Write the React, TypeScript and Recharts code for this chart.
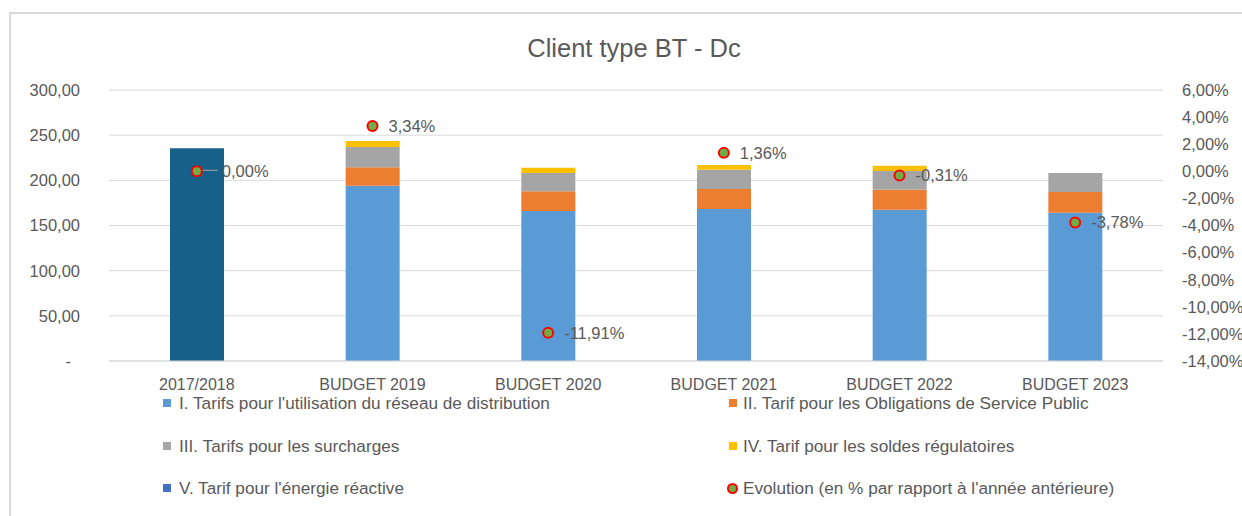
import { ComposedChart, Bar, Line, XAxis, YAxis, CartesianGrid, Cell, LabelList } from 'recharts'

const categories = ['2017/2018', 'BUDGET 2019', 'BUDGET 2020', 'BUDGET 2021', 'BUDGET 2022', 'BUDGET 2023']
const reseau = [235.5, 194, 166, 168.3, 167.5, 164]
const osp = [0, 20.5, 22, 22, 22, 23]
const surcharges = [0, 22.5, 20, 21.5, 20.8, 21]
const soldes = [0, 6.5, 6, 5.3, 5.8, 0]
const reactive = [0, 0, 0, 0, 0, 0]
const evolution = [0, 3.34, -11.91, 1.36, -0.31, -3.78]

const leftTicks = [0, 50, 100, 150, 200, 250, 300]
const rightTicks = [-14, -12, -10, -8, -6, -4, -2, 0, 2, 4, 6]

const series = [
  { key: 'reseau', name: "I. Tarifs pour l'utilisation du réseau de distribution", color: '#5B9BD5' },
  { key: 'osp', name: 'II. Tarif pour les Obligations de Service Public', color: '#ED7D31' },
  { key: 'surcharges', name: 'III. Tarifs pour les surcharges', color: '#A5A5A5' },
  { key: 'soldes', name: 'IV. Tarif pour les soldes régulatoires', color: '#FFC000' },
  { key: 'reactive', name: "V. Tarif pour l'énergie réactive", color: '#4472C4' },
]
const evolutionName = "Evolution (en % par rapport à l'année antérieure)"

const data = categories.map((cat, i) => ({
  cat,
  reseau: reseau[i],
  osp: osp[i],
  surcharges: surcharges[i],
  soldes: soldes[i],
  reactive: reactive[i],
  evolution: evolution[i],
}))

const TEXT = '#595959'
const FONT = '"Liberation Sans", Arial, sans-serif'
const fmt = (v: number, d = 2) => v.toFixed(d).replace('.', ',')

const LeftTick = (p: any) => {
  const v = p.payload.value
  return (
    <text x={v === 0 ? p.x - 9 : p.x} y={p.y} dy="0.355em" textAnchor="end" fill={TEXT} fontSize={16.5}>
      {v === 0 ? '-' : fmt(v)}
    </text>
  )
}

const Marker = (p: any) => {
  if (p.cx == null || p.cy == null) return null
  return <circle key={p.index} cx={p.cx} cy={p.cy} r={5} fill="#70AD47" stroke="#FF0000" strokeWidth={2} />
}

const EvoLabel = (p: any) => {
  const { x, y, value, index } = p
  const first = index === 0
  return (
    <g>
      {first && <line x1={x + 6} y1={y - 1} x2={x + 21} y2={y - 1} stroke="#A6A6A6" strokeWidth={1} />}
      <text x={x + (first ? 25 : 16)} y={y} dy="0.355em" fill={TEXT} fontSize={16.5}>
        {fmt(value) + '%'}
      </text>
    </g>
  )
}

const legendLeft = [series[0], series[2], series[4]]
const legendRight = [series[1], series[3]]
const rowY = [403, 446, 488]

export default function App() {
  return (
    <div style={{ position: 'absolute', left: 0, top: 0, width: 1242, height: 516, overflow: 'hidden', background: '#fff', fontFamily: FONT }}>
      <div style={{ position: 'absolute', left: 9, top: 12, width: 1300, height: 600, border: '2px solid #D9D9D9' }} />
      <div style={{ position: 'absolute', left: 0, width: 1268, top: 30, textAlign: 'center', fontSize: 25.5, color: TEXT, lineHeight: '36px' }}>
        Client type BT - Dc
      </div>
      <div style={{ position: 'absolute', left: 0, top: 0 }}>
        <ComposedChart width={1242} height={516} data={data} margin={{ top: 90, right: 0, left: 0, bottom: 125 }} style={{ fontFamily: FONT }}>
          <CartesianGrid vertical={false} stroke="#D9D9D9" yAxisId="left" />
          <XAxis dataKey="cat" height={30} axisLine={{ stroke: '#D9D9D9' }} tickLine={false} tickSize={0} tickMargin={18}
            tick={{ fill: TEXT, fontSize: 16 }} interval={0} />
          <YAxis yAxisId="left" width={109} domain={[0, 300]} ticks={leftTicks} axisLine={false} tickLine={false}
            tickSize={0} tickMargin={29} tick={<LeftTick />} interval={0} />
          <YAxis yAxisId="right" orientation="right" width={79} domain={[-14, 6]} ticks={rightTicks} axisLine={false}
            tickLine={false} tickSize={0} tickMargin={19} tick={{ fill: TEXT, fontSize: 16.5, textAnchor: 'start' }}
            tickFormatter={(v: number) => fmt(v) + '%'} interval={0} />
          {series.map(s => (
            <Bar key={s.key} dataKey={s.key} name={s.name} yAxisId="left" stackId="a" fill={s.color} barSize={54} isAnimationActive={false}>
              {s.key === 'reseau' && data.map((d, i) => <Cell key={i} fill={i === 0 ? '#17608A' : s.color} />)}
            </Bar>
          ))}
          <Line dataKey="evolution" name={evolutionName} yAxisId="right" stroke="none" dot={<Marker />} activeDot={false} isAnimationActive={false}>
            <LabelList dataKey="evolution" content={<EvoLabel />} />
          </Line>
        </ComposedChart>
      </div>
      {legendLeft.map((s, i) => (
        <div key={s.key} style={{ position: 'absolute', left: 163, top: rowY[i] - 12, height: 24, display: 'flex', alignItems: 'center', fontSize: 17.2, color: TEXT, whiteSpace: 'nowrap' }}>
          <span style={{ width: 8, height: 8, background: s.color, marginRight: 8 }} />
          {s.name}
        </div>
      ))}
      {legendRight.map((s, i) => (
        <div key={s.key} style={{ position: 'absolute', left: 729, top: rowY[i] - 12, height: 24, display: 'flex', alignItems: 'center', fontSize: 17.2, color: TEXT, whiteSpace: 'nowrap' }}>
          <span style={{ width: 8, height: 8, background: s.color, marginRight: 6 }} />
          {s.name}
        </div>
      ))}
      <div style={{ position: 'absolute', left: 727, top: rowY[2] - 12, height: 24, display: 'flex', alignItems: 'center', fontSize: 17.2, color: TEXT, whiteSpace: 'nowrap' }}>
        <span style={{ width: 7, height: 7, borderRadius: '50%', background: '#70AD47', border: '2px solid #FF0000', marginRight: 5 }} />
        {evolutionName}
      </div>
    </div>
  )
}
